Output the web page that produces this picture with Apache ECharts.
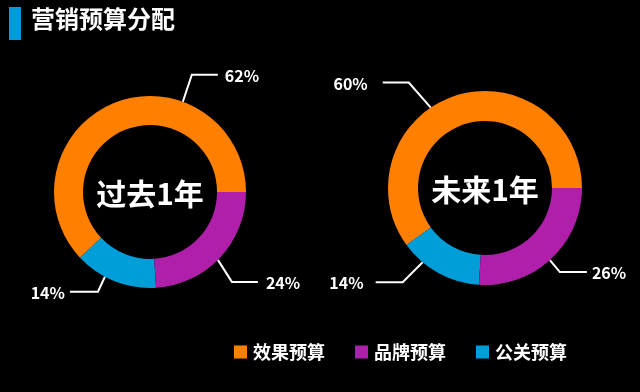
<!DOCTYPE html>
<html><head><meta charset="utf-8">
<script src="https://cdn.jsdelivr.net/npm/echarts@6/dist/echarts.min.js"></script>
<style>html,body{margin:0;padding:0;background:#000;}#c{width:640px;height:392px;}</style>
</head><body><div id="c"></div>
<script>
const chartTitle = '营销预算分配';
const categories = ['效果预算', '品牌预算', '公关预算'];
const pastValues = [62, 24, 14];
const futureValues = [60, 26, 14];
const pieNames = ['过去1年', '未来1年'];
const colors = ['#FF8000', '#B01FAA', '#009ED8'];
// slices are laid out counter-clockwise from 3 o'clock in this order
const sliceOrder = [0, 2, 1];

const FONT = '"Noto Sans CJK SC", "Noto Sans", sans-serif';
const pies = [
  { center: [150, 192], radius: [67, 96], values: pastValues },
  { center: [485, 188], radius: [67, 97], values: futureValues }
];
// label leader styling per pie, per category: anchor angle on rim (deg), first leg, second leg, text gap
const leaderStyle = [
  [ { angle: 70, leg: [9, -27], leg2: 26, gap: 7 },
    { angle: -45, leg: [14, 22], leg2: 26, gap: 8 },
    { angle: 242, leg: [-7, 15], leg2: -28, gap: 5 } ],
  [ { angle: 124, leg: [-22, -25], leg2: -26, gap: 15 },
    { angle: -48, leg: [10, 12], leg2: 27, gap: 5 },
    { angle: 230, leg: [-20, 20], leg2: -27, gap: 12 } ]
];

const chart = echarts.init(document.getElementById('c'), null, { renderer: 'canvas' });

const series = pies.map((p, si) => ({
  type: 'pie',
  center: p.center,
  radius: p.radius,
  startAngle: 0,
  clockwise: false,
  silent: true,
  data: sliceOrder.map(ci => ({ name: categories[ci], value: p.values[ci], itemStyle: { color: colors[ci] } })),
  label: {
    show: true, position: 'outside', formatter: '{c}%',
    color: '#fff', fontSize: 16, fontWeight: 'bold', fontFamily: FONT
  },
  labelLine: { show: true, lineStyle: { color: '#fff', width: 2 }, smooth: false, length: 20, length2: 20 },
  labelLayout: function (params) {
    const ci = sliceOrder[params.dataIndex];
    const st = leaderStyle[si][ci];
    const a = st.angle * Math.PI / 180;
    const r = p.radius[1];
    const ax = p.center[0] + r * Math.cos(a);
    const ay = p.center[1] - r * Math.sin(a);
    const ex = ax + st.leg[0], ey = ay + st.leg[1];
    const hx = ex + st.leg2;
    const right = st.leg2 > 0;
    return {
      x: right ? hx + st.gap : hx - st.gap,
      y: ey + 1,
      align: right ? 'left' : 'right',
      verticalAlign: 'middle',
      labelLinePoints: [[ax, ay], [ex, ey], [hx, ey]]
    };
  }
}));

chart.setOption({
  backgroundColor: '#000',
  animation: false,
  title: [
    { text: chartTitle, left: 31, top: 7, padding: 0,
      textStyle: { color: '#fff', fontSize: 24, fontWeight: 'bold', fontFamily: FONT } },
    { text: pieNames[0], left: pies[0].center[0], top: pies[0].center[1] + 2, textAlign: 'center', textVerticalAlign: 'middle', padding: 0,
      textStyle: { color: '#fff', fontSize: 30, fontWeight: 'bold', fontFamily: FONT } },
    { text: pieNames[1], left: pies[1].center[0], top: pies[1].center[1] + 2, textAlign: 'center', textVerticalAlign: 'middle', padding: 0,
      textStyle: { color: '#fff', fontSize: 30, fontWeight: 'bold', fontFamily: FONT } }
  ],
  graphic: [
    { type: 'rect', left: 9, top: 7, shape: { width: 12, height: 33 }, style: { fill: '#009ED8' } }
  ],
  legend: {
    data: categories, left: 234, top: 343, padding: 0,
    itemWidth: 13, itemHeight: 13, itemGap: 30, icon: 'rect',
    textStyle: { color: '#fff', fontSize: 18, fontWeight: 'bold', fontFamily: FONT, padding: [0, 0, 0, 1] }
  },
  series: series
});
</script></body></html>
